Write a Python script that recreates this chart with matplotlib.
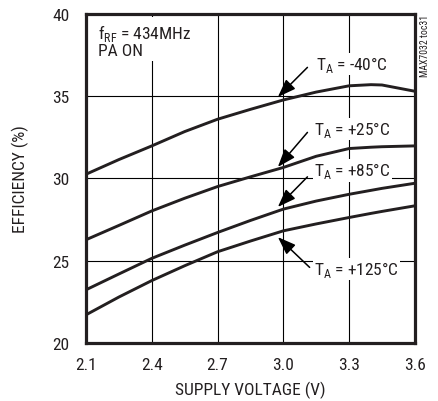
import matplotlib
matplotlib.use("Agg")
import matplotlib.pyplot as plt

# supply voltage (V)
voltage = [2.1, 2.25, 2.4, 2.55, 2.7, 2.85, 3.0, 3.15, 3.3, 3.4, 3.45, 3.6]

# efficiency (%) per ambient temperature
eff_m40 = [30.26, 31.15, 31.98, 32.85, 33.6, 34.2, 34.77, 35.25, 35.63, 35.7, 35.68, 35.3]
eff_p25 = [26.28, 27.15, 28.03, 28.8, 29.51, 30.1, 30.67, 31.35, 31.82, 31.9, 31.93, 31.98]
eff_p85 = [23.24, 24.2, 25.15, 25.95, 26.72, 27.45, 28.14, 28.63, 29.04, 29.28, 29.4, 29.71]
eff_p125 = [21.72, 22.8, 23.8, 24.7, 25.55, 26.2, 26.82, 27.24, 27.63, 27.88, 28.0, 28.34]

series = [eff_m40, eff_p25, eff_p85, eff_p125]
labels = ["-40", "+25", "+85", "+125"]
# (text x, text y, arrow tail x, tail y, head x, head y) in data units
label_pos = [
    (3.15, 36.95, 3.11, 36.75, 2.975, 34.95),
    (3.14, 33.0, 3.11, 32.8, 2.975, 30.7),
    (3.14, 30.5, 3.11, 30.1, 2.975, 28.27),
    (3.14, 24.5, 3.12, 24.6, 2.975, 26.44),
]

xticks = [2.1, 2.4, 2.7, 3.0, 3.3, 3.6]
yticks = [20, 25, 30, 35, 40]

plt.rcParams["font.family"] = ["Roboto Condensed", "DejaVu Sans"]
plt.rcParams["mathtext.fontset"] = "custom"
plt.rcParams["mathtext.rm"] = "Roboto Condensed"

ink = "#231f20"

fig = plt.figure(figsize=(4.39, 4.02), dpi=100)
ax = fig.add_axes([0.196, 0.144, 0.749, 0.819])

ax.set_xlim(2.1, 3.6)
ax.set_ylim(20, 40)
ax.set_xticks(xticks)
ax.set_xticklabels([f"{v:.1f}" for v in xticks])
ax.set_yticks(yticks)
ax.grid(True, color="black", lw=0.8)
ax.set_axisbelow(True)
ax.tick_params(length=0, labelsize=12.5, colors=ink)
ax.tick_params(axis="x", pad=10)
ax.tick_params(axis="y", pad=12)
for sp in ax.spines.values():
    sp.set_linewidth(2.3)
    sp.set_color(ink)

for vals in series:
    ax.plot(voltage, vals, color=ink, lw=2.1, solid_capstyle="butt", zorder=3)

for lab, (tx, ty, ax0, ay0, hx, hy) in zip(labels, label_pos):
    ax.text(tx, ty, r"T$_{\mathrm{A}}$ = " + lab + "°C", fontsize=12.5, color=ink,
            va="center", ha="left", zorder=4,
            bbox=dict(facecolor="white", edgecolor="none", pad=1.0))
    ax.annotate("", xy=(hx, hy), xytext=(ax0, ay0), zorder=5,
                arrowprops=dict(arrowstyle="-|>,head_length=1.1,head_width=0.4",
                                color="black", lw=1.1, shrinkA=0, shrinkB=0))

ax.text(0.035, 0.975, r"f$_{\mathrm{RF}}$ = 434MHz" + "\nPA ON", transform=ax.transAxes,
        fontsize=12.5, color=ink, va="top", ha="left", linespacing=1.0, zorder=4,
        bbox=dict(facecolor="white", edgecolor="none", pad=2.0))

ax.set_xlabel("SUPPLY VOLTAGE (V)", fontsize=12.5, color=ink, labelpad=6)
ax.set_ylabel("EFFICIENCY (%)", fontsize=12.5, color=ink, labelpad=17)

fig.text(0.968, 0.962, "MAX7032 toc31", rotation=90, fontsize=7, color=ink,
         va="top", ha="center")

fig.savefig("out.png", dpi=100)
